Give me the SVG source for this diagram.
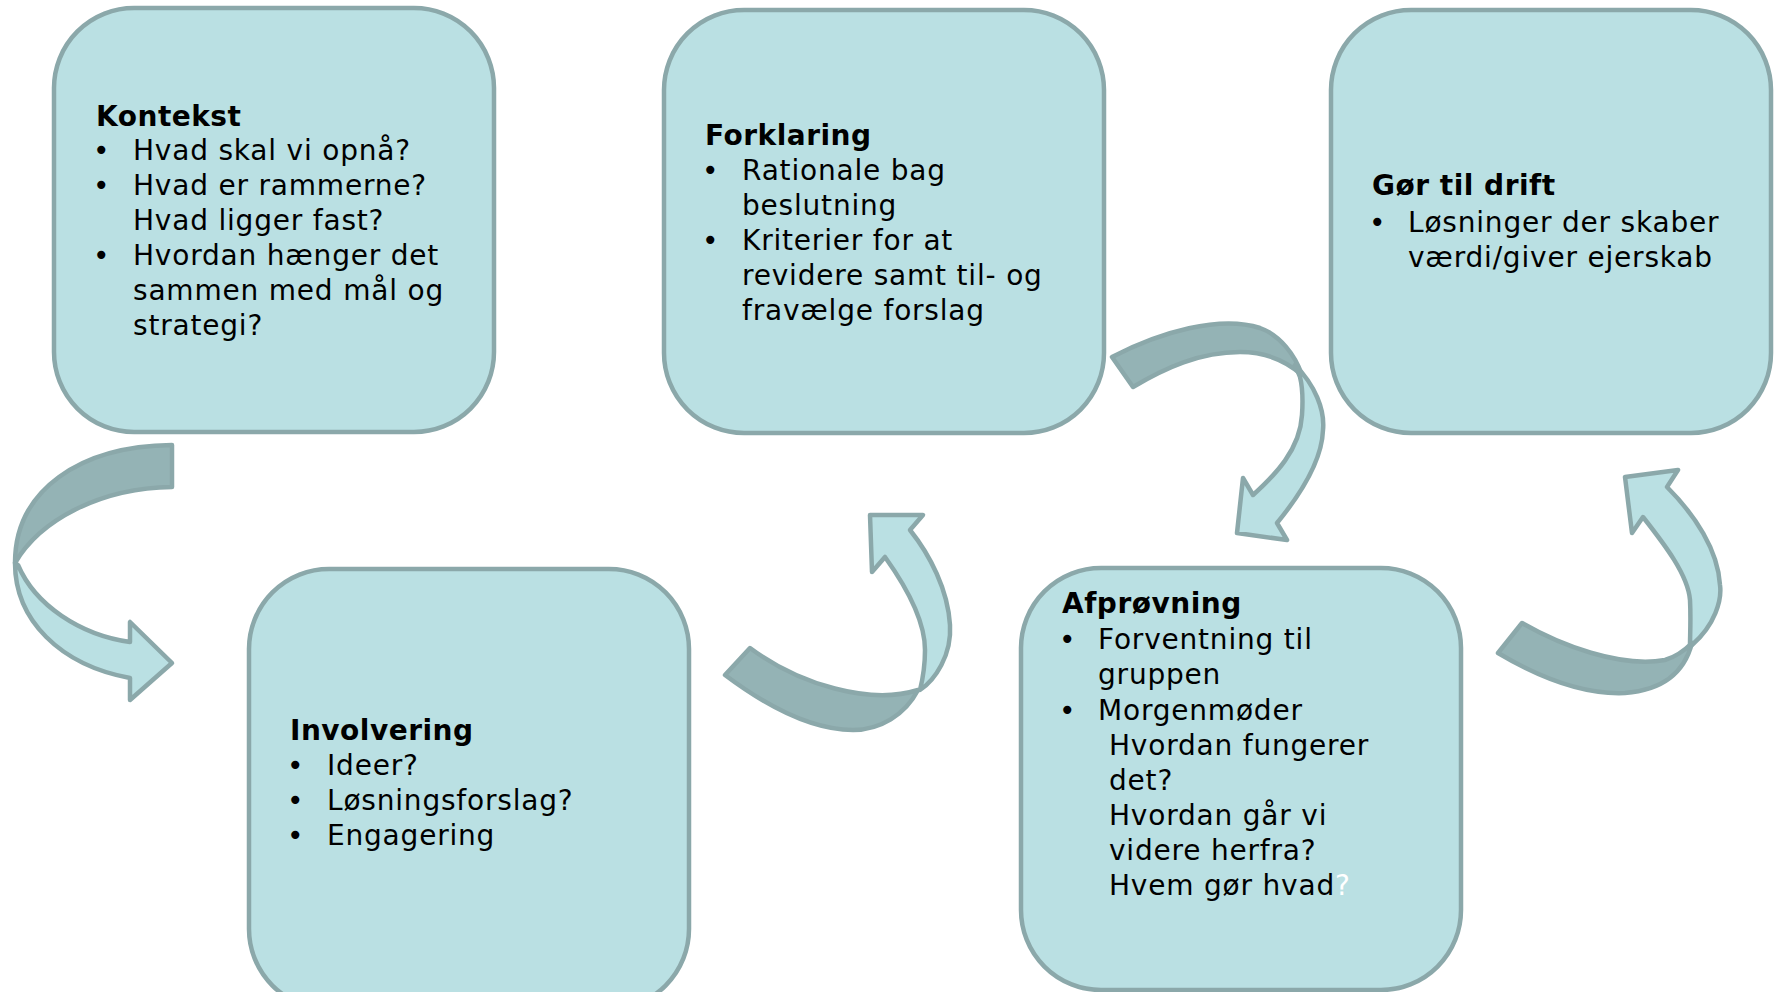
<svg xmlns="http://www.w3.org/2000/svg" width="1775" height="992" viewBox="0 0 1775 992">
<style>
.box{fill:#BAE0E3;stroke:#8BA8AA;stroke-width:4.5}
.lt{fill:#BAE0E3;stroke:#8BA8AA;stroke-width:4.5;stroke-linejoin:round}
.dk{fill:#94B3B5;stroke:#8BA8AA;stroke-width:4.5;stroke-linejoin:round}
text{font-family:"DejaVu Sans","Verdana",sans-serif;font-size:28px;fill:#000;letter-spacing:0.8px}
.t{font-weight:bold;letter-spacing:0.5px}
.w{fill:#FFFFFF}
</style>
<rect width="1775" height="992" fill="#FFFFFF"/>
<g id="connectors">
  <g id="arrow1">
    <path class="dk" d="M172,445 C80,446 15,490 15,563 C40,520 100,488 172,487 Z"/>
    <path class="lt" d="M15,563 C15,620 60,665 130,678 L130,700 L172,663 L130,622 L130,642 C80,635 35,605 18,565 Z"/>
  </g>
  <g id="arrow2">
    <path class="lt" d="M920,690 C935,680 952,655 950,625 C948,590 930,555 910,530 L923,515 L870,515 L872,572 L885,557 C905,585 925,620 925,650 C925,670 922,682 920,690 Z"/>
    <path class="dk" d="M750,648 C800,685 870,705 918,690 C905,715 880,730 853,730 C810,730 765,705 725,675 Z"/>
  </g>
  <g id="arrow3">
    <path class="dk" d="M1112,357 C1160,332 1220,315 1260,328 C1280,335 1295,355 1302,375 C1285,360 1265,352 1240,352 C1200,352 1165,368 1133,387 Z"/>
    <path class="lt" d="M1295,365 C1315,385 1325,410 1323,430 C1322,460 1300,495 1277,523 L1287,540 L1237,533 L1243,478 L1253,495 C1275,475 1300,450 1302,415 C1303,400 1302,385 1300,377 Z"/>
  </g>
  <g id="arrow4">
    <path class="lt" d="M1692,645 C1715,625 1722,600 1720,585 C1718,550 1695,515 1667,487 L1678,470 L1625,477 L1632,533 L1643,517 C1665,545 1688,575 1690,600 C1691,620 1690,635 1690,645 Z"/>
    <path class="dk" d="M1522,623 C1560,645 1620,668 1665,660 C1675,657 1685,650 1692,643 C1685,670 1665,690 1625,693 C1580,695 1535,675 1498,653 Z"/>
  </g>
</g>
<g id="kontekst">
  <rect class="box" x="54" y="8" width="440" height="424" rx="80"/>
  <text class="t" x="96" y="126">Kontekst</text>
  <text x="93" y="160">•</text><text x="133" y="160">Hvad skal vi opnå?</text>
  <text x="93" y="195">•</text><text x="133" y="195">Hvad er rammerne?</text>
  <text x="133" y="230">Hvad ligger fast?</text>
  <text x="93" y="265">•</text><text x="133" y="265">Hvordan hænger det</text>
  <text x="133" y="300">sammen med mål og</text>
  <text x="133" y="335">strategi?</text>
</g>
<g id="forklaring">
  <rect class="box" x="664" y="10" width="440" height="423" rx="80"/>
  <text class="t" x="705" y="145">Forklaring</text>
  <text x="702" y="180">•</text><text x="742" y="180">Rationale bag</text>
  <text x="742" y="215">beslutning</text>
  <text x="702" y="250">•</text><text x="742" y="250">Kriterier for at</text>
  <text x="742" y="285">revidere samt til- og</text>
  <text x="742" y="320">fravælge forslag</text>
</g>
<g id="goer-til-drift">
  <rect class="box" x="1331" y="10" width="440" height="423" rx="80"/>
  <text class="t" x="1372" y="195">Gør til drift</text>
  <text x="1369" y="232">•</text><text x="1408" y="232">Løsninger der skaber</text>
  <text x="1408" y="267">værdi/giver ejerskab</text>
</g>
<g id="involvering">
  <rect class="box" x="249" y="569" width="440" height="440" rx="80"/>
  <text class="t" x="290" y="740">Involvering</text>
  <text x="287" y="775">•</text><text x="327" y="775">Ideer?</text>
  <text x="287" y="810">•</text><text x="327" y="810">Løsningsforslag?</text>
  <text x="287" y="845">•</text><text x="327" y="845">Engagering</text>
</g>
<g id="afproevning">
  <rect class="box" x="1021" y="568" width="440" height="422" rx="80"/>
  <text class="t" x="1062" y="613">Afprøvning</text>
  <text x="1059" y="649">•</text><text x="1098" y="649">Forventning til</text>
  <text x="1098" y="684">gruppen</text>
  <text x="1059" y="720">•</text><text x="1098" y="720">Morgenmøder</text>
  <text x="1109" y="755">Hvordan fungerer</text>
  <text x="1109" y="790">det?</text>
  <text x="1109" y="825">Hvordan går vi</text>
  <text x="1109" y="860">videre herfra?</text>
  <text x="1109" y="895">Hvem gør hvad<tspan class="w">?</tspan></text>
</g>
</svg>
